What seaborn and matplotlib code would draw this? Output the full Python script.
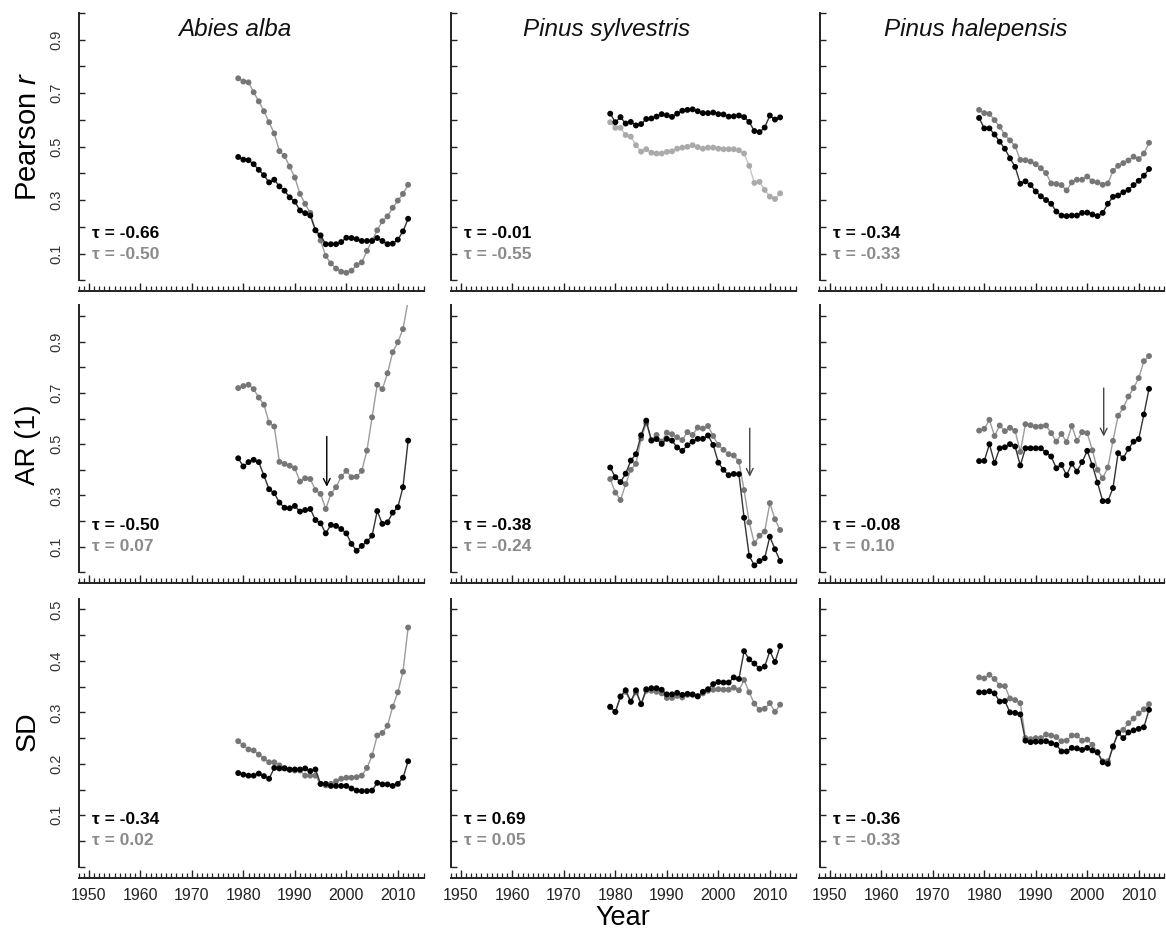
import numpy as np
import pandas as pd
import matplotlib
matplotlib.use("Agg")
import matplotlib.pyplot as plt
import seaborn as sns
from matplotlib.ticker import FixedLocator, FixedFormatter

# ---------------- data ----------------
years = list(range(1979, 2013))

species = ["Abies alba", "Pinus sylvestris", "Pinus halepensis"]

# Pearson r
pearson_abies_black = [0.461, 0.451, 0.449, 0.434, 0.413, 0.393, 0.366, 0.376, 0.351, 0.335, 0.310, 0.294,
                       0.261, 0.251, 0.242, 0.187, 0.168, 0.135, 0.135, 0.135, 0.143, 0.159, 0.158, 0.154,
                       0.147, 0.147, 0.147, 0.158, 0.147, 0.135, 0.137, 0.152, 0.183, 0.230]
pearson_abies_gray = [0.755, 0.743, 0.740, 0.703, 0.669, 0.632, 0.591, 0.549, 0.483, 0.465, 0.425, 0.384,
                      0.323, 0.286, 0.252, 0.187, 0.149, 0.091, 0.063, 0.044, 0.032, 0.028, 0.036, 0.057,
                      0.067, 0.110, 0.149, 0.187, 0.221, 0.239, 0.271, 0.298, 0.323, 0.357]
pearson_sylv_black = [0.623, 0.591, 0.610, 0.586, 0.592, 0.579, 0.584, 0.603, 0.605, 0.612, 0.621, 0.617,
                      0.611, 0.623, 0.634, 0.637, 0.639, 0.632, 0.625, 0.625, 0.627, 0.621, 0.620, 0.612,
                      0.613, 0.616, 0.610, 0.592, 0.558, 0.554, 0.571, 0.616, 0.601, 0.609]
pearson_sylv_gray = [0.591, 0.570, 0.570, 0.543, 0.537, 0.505, 0.481, 0.490, 0.477, 0.474, 0.474, 0.480,
                     0.482, 0.492, 0.496, 0.499, 0.505, 0.498, 0.492, 0.496, 0.496, 0.492, 0.490, 0.490,
                     0.490, 0.486, 0.474, 0.428, 0.364, 0.368, 0.338, 0.313, 0.304, 0.325]
pearson_hale_black = [0.607, 0.568, 0.568, 0.545, 0.518, 0.492, 0.456, 0.424, 0.361, 0.370, 0.356, 0.332,
                      0.314, 0.300, 0.286, 0.257, 0.242, 0.240, 0.242, 0.242, 0.252, 0.253, 0.246, 0.240,
                      0.252, 0.286, 0.312, 0.317, 0.329, 0.338, 0.356, 0.372, 0.391, 0.416]
pearson_hale_gray = [0.637, 0.625, 0.622, 0.599, 0.574, 0.544, 0.523, 0.501, 0.450, 0.449, 0.444, 0.434,
                     0.419, 0.401, 0.362, 0.360, 0.356, 0.336, 0.366, 0.376, 0.376, 0.388, 0.370, 0.366,
                     0.357, 0.362, 0.409, 0.428, 0.438, 0.448, 0.462, 0.453, 0.474, 0.514]

# AR(1)
ar_abies_black = [0.445, 0.413, 0.430, 0.439, 0.430, 0.377, 0.324, 0.309, 0.272, 0.252, 0.250, 0.259,
                  0.237, 0.243, 0.247, 0.204, 0.191, 0.152, 0.185, 0.181, 0.169, 0.152, 0.111, 0.084,
                  0.103, 0.120, 0.143, 0.239, 0.189, 0.195, 0.233, 0.254, 0.332, 0.514]
ar_abies_gray = [0.719, 0.727, 0.732, 0.715, 0.682, 0.654, 0.584, 0.569, 0.431, 0.423, 0.416, 0.406,
                 0.354, 0.367, 0.364, 0.321, 0.306, 0.247, 0.306, 0.332, 0.373, 0.396, 0.371, 0.373,
                 0.396, 0.475, 0.605, 0.732, 0.715, 0.777, 0.859, 0.898, 0.949, 1.060]
ar_sylv_black = [0.409, 0.371, 0.352, 0.385, 0.436, 0.461, 0.535, 0.592, 0.514, 0.520, 0.501, 0.521,
                 0.514, 0.487, 0.474, 0.496, 0.510, 0.521, 0.521, 0.534, 0.497, 0.428, 0.400, 0.379,
                 0.384, 0.383, 0.213, 0.064, 0.027, 0.044, 0.055, 0.139, 0.090, 0.044]
ar_sylv_gray = [0.364, 0.311, 0.282, 0.344, 0.400, 0.423, 0.522, 0.582, 0.517, 0.536, 0.510, 0.545,
                0.539, 0.527, 0.516, 0.547, 0.536, 0.565, 0.561, 0.571, 0.532, 0.497, 0.478, 0.461,
                0.456, 0.432, 0.321, 0.195, 0.113, 0.143, 0.159, 0.270, 0.207, 0.165]
ar_hale_black = [0.434, 0.435, 0.500, 0.427, 0.484, 0.488, 0.500, 0.491, 0.417, 0.484, 0.484, 0.484,
                 0.484, 0.467, 0.452, 0.406, 0.419, 0.379, 0.424, 0.393, 0.430, 0.474, 0.417, 0.350,
                 0.278, 0.278, 0.329, 0.465, 0.445, 0.482, 0.510, 0.520, 0.616, 0.716]
ar_hale_gray = [0.553, 0.560, 0.595, 0.532, 0.573, 0.551, 0.564, 0.552, 0.470, 0.578, 0.574, 0.568,
                0.569, 0.573, 0.543, 0.510, 0.540, 0.508, 0.571, 0.513, 0.547, 0.543, 0.476, 0.400,
                0.367, 0.409, 0.513, 0.611, 0.642, 0.686, 0.719, 0.758, 0.824, 0.844]

# SD
sd_abies_black = [0.182, 0.179, 0.177, 0.177, 0.181, 0.176, 0.171, 0.192, 0.191, 0.191, 0.189, 0.189,
                  0.189, 0.191, 0.186, 0.189, 0.161, 0.161, 0.157, 0.157, 0.157, 0.157, 0.152, 0.148,
                  0.147, 0.147, 0.148, 0.163, 0.160, 0.160, 0.157, 0.161, 0.173, 0.205]
sd_abies_gray = [0.244, 0.236, 0.228, 0.226, 0.218, 0.210, 0.203, 0.203, 0.197, 0.192, 0.188, 0.187,
                 0.187, 0.177, 0.177, 0.177, 0.161, 0.158, 0.161, 0.166, 0.171, 0.173, 0.173, 0.174,
                 0.177, 0.192, 0.216, 0.255, 0.260, 0.274, 0.311, 0.339, 0.379, 0.465]
sd_sylv_black = [0.311, 0.301, 0.331, 0.343, 0.321, 0.343, 0.316, 0.345, 0.347, 0.347, 0.344, 0.335,
                 0.335, 0.338, 0.334, 0.336, 0.335, 0.331, 0.340, 0.345, 0.355, 0.359, 0.358, 0.358,
                 0.368, 0.365, 0.419, 0.403, 0.395, 0.385, 0.389, 0.419, 0.398, 0.429]
sd_sylv_gray = [0.310, 0.301, 0.330, 0.340, 0.320, 0.339, 0.316, 0.342, 0.342, 0.340, 0.337, 0.328,
                0.328, 0.332, 0.329, 0.334, 0.334, 0.332, 0.337, 0.342, 0.344, 0.345, 0.344, 0.344,
                0.348, 0.343, 0.363, 0.339, 0.317, 0.305, 0.307, 0.318, 0.301, 0.315]
sd_hale_black = [0.339, 0.339, 0.341, 0.337, 0.321, 0.322, 0.300, 0.299, 0.296, 0.245, 0.242, 0.243,
                 0.243, 0.244, 0.240, 0.237, 0.224, 0.224, 0.231, 0.230, 0.227, 0.231, 0.226, 0.222,
                 0.203, 0.200, 0.234, 0.260, 0.250, 0.261, 0.265, 0.268, 0.271, 0.305]
sd_hale_gray = [0.368, 0.366, 0.373, 0.365, 0.352, 0.351, 0.327, 0.324, 0.318, 0.250, 0.248, 0.250,
                0.250, 0.257, 0.255, 0.252, 0.244, 0.245, 0.255, 0.255, 0.245, 0.247, 0.237, 0.223,
                0.205, 0.205, 0.232, 0.261, 0.266, 0.279, 0.288, 0.298, 0.306, 0.316]

tau_black = [["-0.66", "-0.01", "-0.34"], ["-0.50", "-0.38", "-0.08"], ["-0.34", "0.69", "-0.36"]]
tau_gray = [["-0.50", "-0.55", "-0.33"], ["0.07", "-0.24", "0.10"], ["0.02", "0.05", "-0.33"]]

row_names = ["Pearson $\\mathit{r}$", "AR (1)", "SD"]
series = [
    [(pearson_abies_black, pearson_abies_gray), (pearson_sylv_black, pearson_sylv_gray),
     (pearson_hale_black, pearson_hale_gray)],
    [(ar_abies_black, ar_abies_gray), (ar_sylv_black, ar_sylv_gray), (ar_hale_black, ar_hale_gray)],
    [(sd_abies_black, sd_abies_gray), (sd_sylv_black, sd_sylv_gray), (sd_hale_black, sd_hale_gray)],
]

# arrows in AR(1) row: x, y start, y end
arrow_x = [1996.2, 2006.1, 2003.2]
arrow_y0 = [0.53, 0.5625, 0.719]
arrow_y1 = [0.334, 0.373, 0.53]

# ---------------- style ----------------
sns.set_theme(style="white")
plt.rcParams["font.family"] = ["Liberation Sans", "DejaVu Sans"]
plt.rcParams["mathtext.fontset"] = "custom"
plt.rcParams["mathtext.rm"] = "Liberation Sans"
plt.rcParams["mathtext.it"] = "Liberation Sans:italic"

W, H = 1166, 931
fig = plt.figure(figsize=(W / 100, H / 100), dpi=100)
fig.patch.set_facecolor("white")

col_left = [78.6, 450.6, 819.5]
col_width = 346.0
row_bottom = [280.3, 572.3, 866.7]
row_height = 267.5
ylim_top = [1.0, 1.044, 0.52]
xlim = (1948, 2015.2)

ytick_pos = [
    [round(0.1 * i, 2) for i in range(11)],
    [round(0.1 * i, 2) for i in range(11)],
    [round(0.05 * i, 2) for i in range(11)],
]
ytick_lab = [
    {0.1: "0.1", 0.3: "0.3", 0.5: "0.5", 0.7: "0.7", 0.9: "0.9"},
    {0.1: "0.1", 0.3: "0.3", 0.5: "0.5", 0.7: "0.7", 0.9: "0.9"},
    {0.1: "0.1", 0.2: "0.2", 0.3: "0.3", 0.4: "0.4", 0.5: "0.5"},
]

gray_marker = "#767676"
gray_line = "#9c9c9c"
light_marker = "#aaaaaa"
light_line = "#c4c4c4"
tau_gray_col = "#8a8a8a"

for r in range(3):
    for c in range(3):
        left = col_left[c] / W
        bottom = (H - row_bottom[r]) / H
        ax = fig.add_axes([left, bottom, col_width / W, row_height / H])
        ax.set_facecolor("white")
        blk, gry = series[r][c]
        if r == 0 and c == 1:
            mcol, lcol = light_marker, light_line
        else:
            mcol, lcol = gray_marker, gray_line
        dfg = pd.DataFrame({"year": years, "value": gry})
        dfb = pd.DataFrame({"year": years, "value": blk})
        sns.lineplot(data=dfg, x="year", y="value", ax=ax, color=lcol, lw=1.0, zorder=2, legend=False)
        sns.scatterplot(data=dfg, x="year", y="value", ax=ax, color=mcol, s=18, edgecolor="none",
                        zorder=3, legend=False)
        sns.lineplot(data=dfb, x="year", y="value", ax=ax, color="#333333", lw=1.0, zorder=4, legend=False)
        sns.scatterplot(data=dfb, x="year", y="value", ax=ax, color="black", s=18, edgecolor="none",
                        zorder=5, legend=False)
        ax.set_xlabel("")
        ax.set_ylabel("")
        ax.set_xlim(*xlim)
        ax.set_ylim(0, ylim_top[r])

        for s in ["top", "right"]:
            ax.spines[s].set_visible(False)
        ax.spines["left"].set_linewidth(1.4)
        ax.spines["left"].set_color("#222222")
        ax.spines["bottom"].set_linewidth(1.4)
        ax.spines["bottom"].set_color("#222222")
        ax.spines["bottom"].set_position(("outward", 8))
        ax.spines["bottom"].set_bounds(1948, 2015)

        # x ticks
        ax.xaxis.set_major_locator(FixedLocator(list(range(1950, 2011, 10))))
        ax.xaxis.set_minor_locator(FixedLocator([y for y in range(1948, 2016) if y % 10 != 0]))
        ax.tick_params(axis="x", which="major", direction="in", length=6, width=1.0, color="#222222",
                       bottom=True, labelbottom=(r == 2), labelsize=11.5, labelcolor="#222222", pad=7)
        ax.tick_params(axis="x", which="minor", direction="in", length=3.5, width=0.9, color="#222222",
                       bottom=True)

        # y ticks
        ax.yaxis.set_major_locator(FixedLocator(ytick_pos[r]))
        if c == 0:
            labs = [ytick_lab[r].get(round(v, 2), "") for v in ytick_pos[r]]
        else:
            labs = ["" for _ in ytick_pos[r]]
        ax.yaxis.set_major_formatter(FixedFormatter(labs))
        ax.tick_params(axis="y", which="major", direction="in", length=4.5, width=1.0, color="#222222",
                       left=True, labelsize=10.5, labelcolor="#333333", pad=11, labelrotation=90)
        for lab in ax.get_yticklabels():
            lab.set_va("center")
            lab.set_ha("right")

        # tau annotations
        ax.text(0.04, 0.175, "\u03c4 = " + tau_black[r][c], transform=ax.transAxes, fontsize=12.5,
                fontweight="bold", color="black", ha="left", va="center")
        ax.text(0.04, 0.098, "\u03c4 = " + tau_gray[r][c], transform=ax.transAxes, fontsize=12.5,
                fontweight="bold", color=tau_gray_col, ha="left", va="center")

        if r == 0:
            ax.text(1978.3, 0.936, species[c], fontsize=17.5, style="italic", ha="center", va="center",
                    color="#111111")
        if r == 1:
            acol = "black" if c == 0 else "#444444"
            ax.annotate("", xy=(arrow_x[c], arrow_y1[c]), xytext=(arrow_x[c], arrow_y0[c]),
                        arrowprops=dict(arrowstyle="->", lw=1.0, color=acol, mutation_scale=12,
                                        shrinkA=0, shrinkB=0), zorder=6)

label_y = [136, 445, 731]
label_size = [21, 20, 20.5]
for r in range(3):
    fig.text(28 / W, 1 - label_y[r] / H, row_names[r], rotation=90, fontsize=label_size[r], ha="center",
             va="center", color="black")

fig.text(623 / W, 1 - 918 / H, "Year", fontsize=19.5, ha="center", va="center", color="black")

fig.savefig("out.png", dpi=100, facecolor="white")
